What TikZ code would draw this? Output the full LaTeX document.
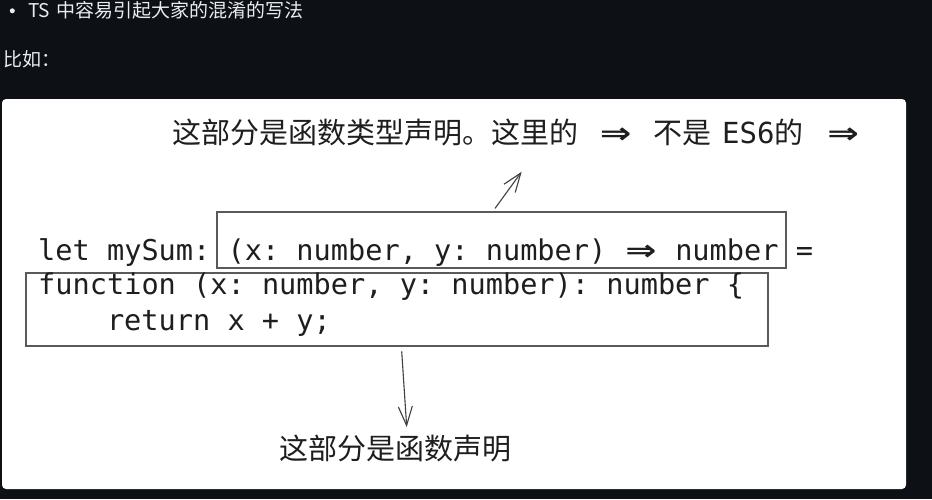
\documentclass[tikz,border=0pt]{standalone}
\usepackage{fontspec}
\usepackage{xcolor}
\usepackage{graphicx}
\usetikzlibrary{positioning,calc,arrows.meta}
\newfontfamily\cjk{Noto Sans CJK SC}
\newfontfamily\mono{DejaVu Sans Mono}
\newfontfamily\arrowfont{DejaVu Sans}
\definecolor{pagebg}{HTML}{0D1014}
\definecolor{pagetext}{HTML}{E6EDF3}
\definecolor{ink}{HTML}{1E1E1E}
\definecolor{frameline}{HTML}{5A5A5A}
\newcommand{\darr}{\scalebox{1.3}[1]{\arrowfont\bfseries ⇒}}

\begin{document}
\begin{tikzpicture}[x=1pt,y=-1pt,
		page/.style={anchor=base west, inner sep=0pt, text=pagetext, font=\cjk\fontsize{19}{23}\selectfont},
		code/.style={anchor=base west, inner sep=0pt, text=ink, font=\mono\fontsize{28.6}{34}\selectfont\frenchspacing},
		note/.style={anchor=base west, inner sep=0pt, text=ink, font=\cjk\fontsize{29}{35}\selectfont},
		frame/.style={rectangle, draw=frameline, line width=1.2pt, inner sep=0pt},
		pointer/.style={draw=ink!85, line width=1.1pt, -{Straight Barb[length=19pt,width=14pt]}}]
				\useasboundingbox (0,0) rectangle (932,499);
				\fill[pagebg] (0,0) rectangle (932,499);
				\fill[white, rounded corners=4pt] (2,99) rectangle (906,489);
				
				% page text above the drawing
				\node[circle, fill=pagetext, inner sep=0pt, minimum size=5pt] (dot) at (12.3,10.8) {};
				\node[page] (heading) at (28,17) {TS\hspace{0.35em}中容易引起大家的混淆的写法};
				\node[page] (forexample) at (3,66.3) {比如：};
				
				\node[frame, minimum width=569pt, minimum height=56pt] (typebox) at (501.5,240) {};
				\node[frame, minimum width=742pt, minimum height=73pt] (fnbox) at (397,309.5) {};
				
				\node[code] (letline) at (38,260) {let mySum: (x: number, y: number) \makebox[34.4pt]{\darr} number =};
				\node[code] (fnline) at (38,294) {function (x: number, y: number): number \{};
				\node[code] (retline) at (106.8,330) {return x + y;};
				
				\node[note] (typenote) at (172,143.5) {这部分是函数类型声明。这里的\makebox[75pt]{\darr}不是\hspace{11pt}{\mono ES6}的\makebox[79pt]{\darr}};
				\node[note] (declnote) at (279,459) {这部分是函数声明};
				
				\coordinate (typetip) at (521.7,171.7);
				\coordinate (decltip) at (406.7,427);
				\draw[pointer] ($(typebox.north)+(-6.5,-3)$) -- (typetip);
				\draw[pointer] ($(fnbox.south)+(4.7,4.7)$) -- (decltip);
\end{tikzpicture}
\end{document}
